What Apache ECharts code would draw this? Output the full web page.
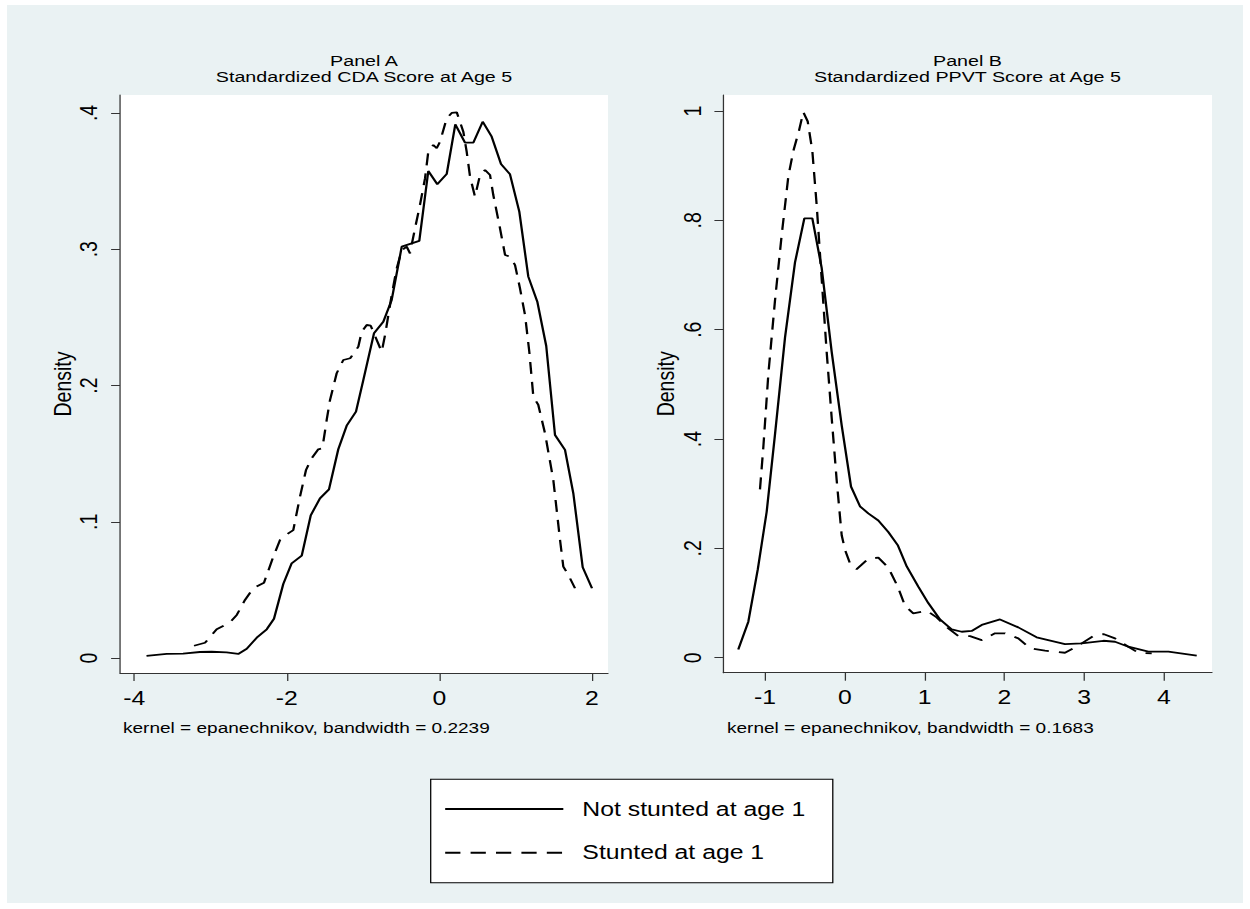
<!DOCTYPE html>
<html><head><meta charset="utf-8">
<script src="https://cdn.jsdelivr.net/npm/echarts@6/dist/echarts.min.js"></script>
<style>
html,body{margin:0;padding:0;background:#fff;width:1250px;height:909px;overflow:hidden;}
#bg{position:absolute;left:7px;top:5px;width:1236px;height:898px;background:#eaf2f3;}
#chart{position:absolute;left:0;top:0;width:984px;height:909px;transform:scaleX(1.27033);transform-origin:0 0;}
</style></head><body><div id="bg"></div><div id="chart"></div>
<script>
// ---------------- DATA ----------------
const panelTitles = ['Panel A\nStandardized CDA Score at Age 5', 'Panel B\nStandardized PPVT Score at Age 5'];
const panelNotes = ['kernel = epanechnikov, bandwidth = 0.2239', 'kernel = epanechnikov, bandwidth = 0.1683'];
const seriesNames = ['Not stunted at age 1', 'Stunted at age 1'];
const yAxisTitle = 'Density';

const xTicksA = [-4, -2, 0, 2];
const yTicksA = [0, 0.1, 0.2, 0.3, 0.4];
const xTicksB = [-1, 0, 1, 2, 3, 4];
const yTicksB = [0, 0.2, 0.4, 0.6, 0.8, 1];

// Panel A: CDA score densities [x, density]
const cdaNotStunted = [[-3.84,0.0015],[-3.575,0.003],[-3.36,0.0032],[-3.14,0.0044],[-2.985,0.0046],[-2.79,0.0042],[-2.637,0.003],[-2.526,0.0068],[-2.395,0.0149],[-2.264,0.0211],[-2.169,0.0288],[-2.047,0.0543],[-1.937,0.0695],[-1.805,0.0751],[-1.687,0.1047],[-1.566,0.1172],[-1.448,0.1238],[-1.326,0.1532],[-1.216,0.1705],[-1.094,0.1808],[-0.998,0.204],[-0.858,0.2383],[-0.736,0.2468],[-0.626,0.2628],[-0.494,0.3019],[-0.264,0.3061],[-0.146,0.3574],[-0.028,0.3477],[0.095,0.3552],[0.208,0.3917],[0.335,0.3782],[0.444,0.3782],[0.567,0.3936],[0.685,0.3826],[0.807,0.3626],[0.925,0.355],[1.047,0.3276],[1.165,0.2799],[1.283,0.2615],[1.4,0.229],[1.515,0.1637],[1.646,0.1527],[1.755,0.1209],[1.878,0.0666],[2.0,0.0512]];
const cdaStunted = [[-3.217,0.009],[-3.073,0.0112],[-2.92,0.0211],[-2.745,0.0262],[-2.657,0.0316],[-2.549,0.0426],[-2.44,0.0512],[-2.3,0.0553],[-2.178,0.0743],[-2.09,0.0866],[-1.981,0.0915],[-1.916,0.0939],[-1.828,0.1184],[-1.749,0.138],[-1.675,0.1466],[-1.588,0.1532],[-1.535,0.1539],[-1.478,0.1747],[-1.434,0.1894],[-1.347,0.209],[-1.26,0.2187],[-1.17,0.22],[-1.063,0.2285],[-1.019,0.2395],[-0.953,0.2444],[-0.901,0.2439],[-0.757,0.2248],[-0.713,0.237],[-0.626,0.2664],[-0.56,0.286],[-0.494,0.2994],[-0.429,0.3019],[-0.386,0.297],[-0.32,0.3154],[-0.255,0.3325],[-0.189,0.352],[-0.146,0.3716],[-0.08,0.3765],[-0.036,0.3741],[0.008,0.3789],[0.095,0.3961],[0.161,0.4],[0.227,0.4005],[0.313,0.3863],[0.357,0.3716],[0.401,0.3533],[0.466,0.3386],[0.532,0.3545],[0.598,0.3582],[0.663,0.3545],[0.706,0.3398],[0.794,0.3154],[0.86,0.2958],[0.925,0.2945],[0.991,0.2884],[1.056,0.2713],[1.122,0.2517],[1.178,0.2248],[1.231,0.1918],[1.296,0.1857],[1.384,0.1649],[1.493,0.1306],[1.581,0.0866],[1.624,0.067],[1.69,0.0609],[1.777,0.0512]];

// Panel B: PPVT score densities [x, density]
const ppvtNotStunted = [[-1.335,0.015],[-1.209,0.066],[-1.09,0.162],[-0.979,0.267],[-0.875,0.408],[-0.749,0.586],[-0.624,0.723],[-0.507,0.8035],[-0.407,0.8035],[-0.29,0.713],[-0.164,0.559],[-0.039,0.425],[0.078,0.313],[0.19,0.277],[0.294,0.264],[0.42,0.251],[0.545,0.23],[0.663,0.206],[0.776,0.167],[0.921,0.13],[1.046,0.1],[1.193,0.07],[1.339,0.052],[1.465,0.0475],[1.59,0.049],[1.716,0.06],[1.945,0.07],[2.174,0.0555],[2.404,0.0373],[2.759,0.025],[2.968,0.0263],[3.24,0.031],[3.386,0.0292],[3.553,0.0201],[3.804,0.011],[4.055,0.011],[4.41,0.0037]];
const ppvtStunted = [[-1.063,0.308],[-1.021,0.385],[-0.958,0.519],[-0.875,0.653],[-0.791,0.773],[-0.708,0.88],[-0.645,0.927],[-0.574,0.964],[-0.52,0.998],[-0.465,0.981],[-0.407,0.927],[-0.352,0.827],[-0.29,0.693],[-0.227,0.559],[-0.164,0.438],[-0.102,0.325],[-0.039,0.224],[0.003,0.197],[0.066,0.172],[0.149,0.162],[0.294,0.181],[0.42,0.183],[0.545,0.165],[0.663,0.13],[0.754,0.095],[0.858,0.081],[1.026,0.086],[1.151,0.0738],[1.297,0.0537],[1.422,0.0396],[1.569,0.0396],[1.716,0.0323],[1.882,0.0446],[2.008,0.0446],[2.174,0.0354],[2.321,0.0172],[2.509,0.0128],[2.759,0.0091],[2.863,0.0172],[2.968,0.0263],[3.114,0.0396],[3.24,0.0433],[3.386,0.0354],[3.553,0.0201],[3.678,0.0091],[3.846,0.008]];

// ---------------- LAYOUT / STYLE ----------------
const S = 1250 / 984;               // horizontal stretch of the original figure
const px = v => v / S;              // original-pixel x -> chart-space x
const FONT = "'Liberation Sans', Arial, Helvetica, sans-serif";
const AX = '#333333';
const yFmt = v => (v === 0 ? '0' : (Math.abs(v - 1) < 1e-9 ? '1' : String(+v.toFixed(2)).replace(/^0\./, '.')));

function xAxisDef(grid, ticks, min, max) {
  return {
    type: 'value', gridIndex: grid, min: min, max: max,
    axisLine: { show: true, onZero: false, lineStyle: { color: AX, width: 1 } },
    axisTick: { show: true, customValues: ticks, length: 8, lineStyle: { color: AX, width: 1 } },
    axisLabel: { customValues: ticks, margin: 15, fontSize: 19.5, lineHeight: 20, color: '#000', fontFamily: FONT },
    splitLine: { show: false }
  };
}
function yAxisDef(grid, ticks, min, max) {
  return {
    type: 'value', gridIndex: grid, min: min, max: max,
    name: yAxisTitle, nameLocation: 'middle', nameGap: 34,
    nameTextStyle: { fontSize: 19.5, lineHeight: 20, color: '#000', fontFamily: FONT },
    axisLine: { show: true, onZero: false, lineStyle: { color: AX, width: 1 } },
    axisTick: { show: true, customValues: ticks, length: 7, lineStyle: { color: AX, width: 1 } },
    axisLabel: { customValues: ticks, rotate: 90, margin: 14.5, fontSize: 19.5, lineHeight: 20, color: '#000', fontFamily: FONT, formatter: yFmt },
    splitLine: { show: false }
  };
}
function lineSeries(name, data, idx, dashed) {
  return {
    type: 'line', name: name, data: data, xAxisIndex: idx, yAxisIndex: idx,
    symbol: 'none', silent: true, clip: true,
    lineStyle: { color: '#000', width: 1.8, type: dashed ? [12, 8] : 'solid' },
    itemStyle: { color: '#000' }
  };
}

const chart = echarts.init(document.getElementById('chart'), null, { renderer: 'svg' });
chart.setOption({
  animation: false,
  backgroundColor: 'transparent',
  textStyle: { fontFamily: FONT, color: '#000' },
  title: [
    { text: panelTitles[0], left: px(364), top: 53, textAlign: 'center', padding: 0,
      textStyle: { fontSize: 15.5, fontWeight: 'normal', lineHeight: 16, color: '#000', fontFamily: FONT } },
    { text: panelTitles[1], left: px(967.5), top: 53, textAlign: 'center', padding: 0,
      textStyle: { fontSize: 15.5, fontWeight: 'normal', lineHeight: 16, color: '#000', fontFamily: FONT } },
    { text: panelNotes[0], left: px(123), top: 719.5, padding: 0,
      textStyle: { fontSize: 15, fontWeight: 'normal', lineHeight: 16, color: '#000', fontFamily: FONT } },
    { text: panelNotes[1], left: px(727), top: 719.5, padding: 0,
      textStyle: { fontSize: 15, fontWeight: 'normal', lineHeight: 16, color: '#000', fontFamily: FONT } }
  ],
  legend: {
    data: seriesNames, orient: 'vertical', left: px(430.7), top: 779.3,
    padding: [18.7, 21.5, 19, 10.4], itemWidth: 93, itemHeight: 22, itemGap: 21.7,
    backgroundColor: '#fff', borderColor: '#000', borderWidth: 1, borderRadius: 0,
    selectedMode: false,
    itemStyle: { color: 'rgba(0,0,0,0)', borderColor: 'rgba(0,0,0,0)', borderWidth: 0, opacity: 0 },
    lineStyle: { opacity: 1 },
    textStyle: { fontSize: 19.5, lineHeight: 22, color: '#000', fontFamily: FONT, padding: [0, 0, 0, 10] }
  },
  grid: [
    { left: px(120), top: 95, width: px(608) - px(120), height: 578, show: true, backgroundColor: '#fff', borderWidth: 0 },
    { left: px(723.3), top: 95, width: px(1212) - px(723.3), height: 577.7, show: true, backgroundColor: '#fff', borderWidth: 0 }
  ],
  xAxis: [ xAxisDef(0, xTicksA, -4.1875, 2.2097), xAxisDef(1, xTicksB, -1.5226, 4.6015) ],
  yAxis: [ yAxisDef(0, yTicksA, -0.011, 0.4132), yAxisDef(1, yTicksB, -0.0274, 1.0292) ],
  series: [
    lineSeries(seriesNames[0], cdaNotStunted, 0, false),
    lineSeries(seriesNames[1], cdaStunted, 0, true),
    lineSeries(seriesNames[0], ppvtNotStunted, 1, false),
    lineSeries(seriesNames[1], ppvtStunted, 1, true)
  ]
});
</script></body></html>
